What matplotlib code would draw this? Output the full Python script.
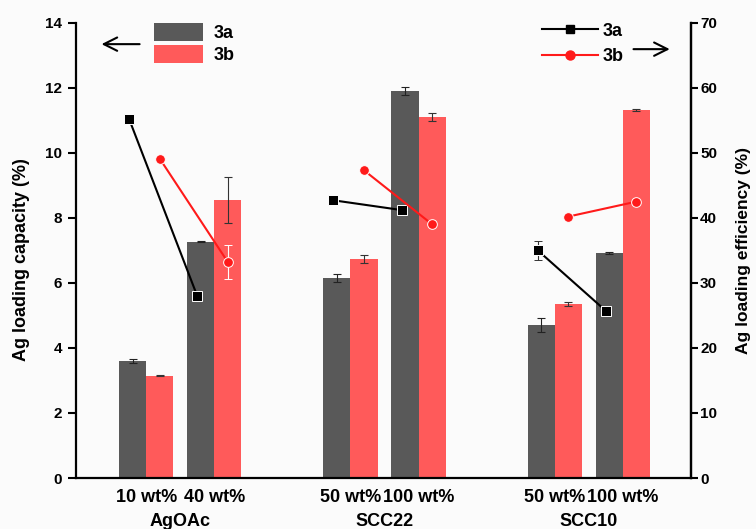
import numpy as np
import matplotlib
matplotlib.use("Agg")
import matplotlib.pyplot as plt
from matplotlib.patches import Patch
from matplotlib.lines import Line2D

plt.rcParams['font.family'] = ['Liberation Sans', 'DejaVu Sans']
plt.rcParams['font.weight'] = 'bold'

# data
groups = ["AgOAc", "SCC22", "SCC10"]
conc_labels = ["10 wt%", "40 wt%", "50 wt%", "100 wt%", "50 wt%", "100 wt%"]
pos = np.array([1, 2, 4, 5, 7, 8])

cap_3a = [3.6, 7.27, 6.15, 11.9, 4.7, 6.92]
cap_3a_err = [0.05, 0.02, 0.12, 0.12, 0.22, 0.02]
cap_3b = [3.15, 8.55, 6.73, 11.1, 5.36, 11.32]
cap_3b_err = [0.02, 0.7, 0.12, 0.12, 0.06, 0.02]

eff_3a = [55.2, 28.0, 42.7, 41.2, 35.0, 25.7]
eff_3a_err = [0, 0, 0, 0, 1.5, 0]
eff_3b = [49.1, 33.2, 47.3, 39.0, 40.2, 42.5]
eff_3b_err = [0, 2.6, 0, 0, 0, 0]

gray = '#595959'
red_bar = '#ff5a5a'
red_line = '#ff1a1a'
bg = '#fbfbfb'

fig = plt.figure(figsize=(7.56, 5.29), dpi=100, facecolor=bg)
ax = fig.add_axes([0.1005, 0.0964, 0.8135, 0.8606])
ax.set_facecolor(bg)
w = 0.4

ax.bar(pos - w / 2, cap_3a, w, color=gray, yerr=cap_3a_err,
       error_kw=dict(ecolor='#222222', elinewidth=0.8, capsize=3, capthick=0.8))
ax.bar(pos + w / 2, cap_3b, w, color=red_bar, yerr=cap_3b_err,
       error_kw=dict(ecolor='#333333', elinewidth=0.8, capsize=3, capthick=0.8))

ax.set_xlim(-0.03, 9.0)
ax.set_ylim(0, 14)
ax.set_yticks(np.arange(0, 15, 2))
ax.set_xticks(pos)
ax.set_xticklabels(conc_labels, fontsize=13, fontweight='bold')
ax.tick_params(axis='x', length=0, pad=8)
ax.tick_params(axis='y', direction='out', length=6, width=1.5, pad=4, labelsize=11)
for s in ['left', 'bottom', 'right']:
    ax.spines[s].set_linewidth(1.6)
ax.spines['top'].set_visible(False)
ax.set_ylabel("Ag loading capacity (%)", fontsize=13, fontweight='bold')
ax.yaxis.set_label_coords(-0.074, 0.48)

for i, g in enumerate(groups):
    ax.text((pos[2 * i] + pos[2 * i + 1]) / 2, -0.095, g, transform=ax.get_xaxis_transform(),
            ha='center', va='center', fontsize=13, fontweight='bold')

ax2 = ax.twinx()
ax2.set_ylim(0, 70)
ax2.set_yticks(np.arange(0, 71, 10))
ax2.tick_params(axis='y', direction='out', length=5, width=1.5, pad=1.5, labelsize=11)
ax2.spines['top'].set_visible(False)
ax2.spines['right'].set_linewidth(1.6)
ax2.spines['left'].set_visible(False)
ax2.spines['bottom'].set_visible(False)
ax2.set_ylabel("Ag loading efficiency (%)", fontsize=12.5, fontweight='bold')
ax2.yaxis.set_label_coords(1.074, 0.5)

for k in range(3):
    sl = slice(2 * k, 2 * k + 2)
    ax2.errorbar(pos[sl] - 0.25, eff_3a[sl], yerr=eff_3a_err[sl], color='black', lw=1.5,
                 marker='s', ms=6.5, mec='white', mew=0.7, ecolor='#333333',
                 elinewidth=0.8, capsize=3, capthick=0.8)
    ax2.errorbar(pos[sl] + 0.2, eff_3b[sl], yerr=eff_3b_err[sl], color=red_line, lw=1.5,
                 marker='o', ms=7, mec='white', mew=0.7, ecolor='white',
                 elinewidth=0.8, capsize=3, capthick=0.8)

bar_handles = [Patch(facecolor=gray, label='3a'), Patch(facecolor=red_bar, label='3b')]
leg1 = ax2.legend(handles=bar_handles, loc='upper left', bbox_to_anchor=(0.127, 1.0),
                  frameon=False, fontsize=13, handlelength=2.7, handleheight=1.2,
                  labelspacing=0.15, borderpad=0, borderaxespad=0, handletextpad=0.6)
ax2.add_artist(leg1)
line_handles = [Line2D([], [], color='black', lw=1.5, marker='s', ms=6, label='3a'),
                Line2D([], [], color=red_line, lw=1.5, marker='o', ms=6.5, label='3b')]
ax2.legend(handles=line_handles, loc='upper left', bbox_to_anchor=(0.757, 1.0),
           frameon=False, fontsize=13, handlelength=3.1, labelspacing=0.45,
           borderpad=0, borderaxespad=0, handletextpad=0.3)

ax2.annotate('', xy=(0.037, 0.953), xytext=(0.108, 0.953), xycoords='axes fraction',
             arrowprops=dict(arrowstyle='->', color='black', lw=1.5, mutation_scale=24))
ax2.annotate('', xy=(0.970, 0.942), xytext=(0.902, 0.942), xycoords='axes fraction',
             arrowprops=dict(arrowstyle='->', color='black', lw=1.5, mutation_scale=24))

fig.savefig('out.png', dpi=100, facecolor=bg)
